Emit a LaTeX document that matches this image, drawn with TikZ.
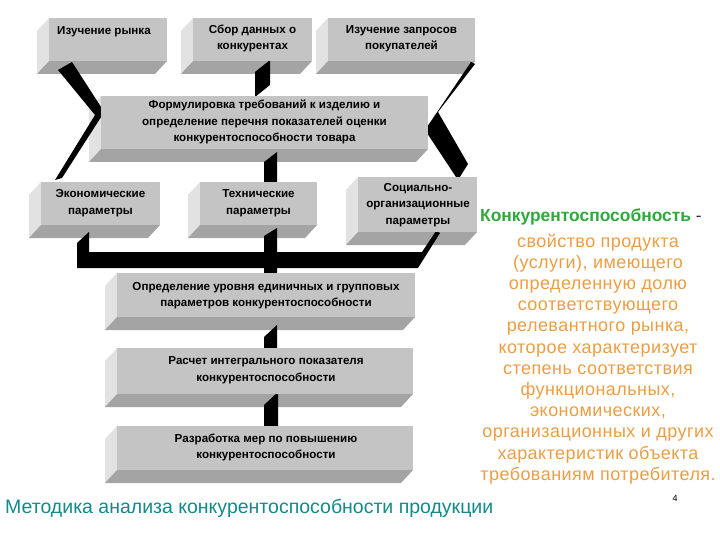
\documentclass[tikz,border=0pt]{standalone}
\usepackage{fontspec}
\setmainfont{Liberation Sans}
\newfontfamily\deffont[LetterSpace=2.5]{Liberation Sans}
\definecolor{boxfront}{HTML}{C4C4C4}
\definecolor{boxside}{HTML}{E2E2E2}
\definecolor{boxbottom}{HTML}{A4A4A4}
\definecolor{defgreen}{HTML}{2EAA3C}
\definecolor{deforange}{HTML}{EC9E44}
\definecolor{titleteal}{HTML}{138A8A}
\newcommand{\boxfaces}[4]{%
  \fill[boxside] (#1,#2) -- (#1-12,#2+13) -- (#1-12,#4+13) -- (#1,#4) -- cycle;
  \fill[boxbottom] (#1,#4) -- (#3,#4) -- (#3-12,#4+13) -- (#1-12,#4+13) -- cycle;}
\newcommand{\boxfront}[5]{%
  \node[frontface, anchor=north west, minimum width={#4-#2}, minimum height={#5-#3}] (#1) at (#2,#3) {};}
\begin{document}
\begin{tikzpicture}[x=1pt,y=-1pt,
  frontface/.style={fill=boxfront, draw=none, inner sep=0pt, outer sep=0pt},
  boxtext/.style={font=\fontsize{11.6}{16.5}\selectfont\bfseries, align=center, inner sep=0pt},
  conn/.style={fill=black}]
\useasboundingbox (0,0) rectangle (720,540);
\fill[white] (0,0) rectangle (720,540);
% side and bottom faces
\boxfaces{49}{18}{167}{61}
\boxfaces{193}{18}{312}{61}
\boxfaces{328}{18}{475}{61}
\boxfaces{101}{96}{428}{149}
\boxfaces{41}{182}{160}{225}
\boxfaces{200}{182}{317}{225}
\boxfaces{358}{177}{477}{232}
\boxfaces{117}{273}{415}{317}
\boxfaces{117}{348}{413}{394}
\boxfaces{117}{426}{413}{470}
% connectors (black bands)
\fill[conn] (58,70) -- (72,62) -- (103,110) -- (103,114) -- (62,178) -- (55,180) -- (95,115) -- cycle;
\fill[conn] (255,72) -- (270,60) -- (270,85) -- (255,97) -- cycle;
\fill[conn] (471,62) -- (475,64) -- (438,112) -- (468,164) -- (458,180) -- (425,130) -- cycle;
\fill[conn] (264,162) -- (277,152) -- (277,183) -- (264,183) -- cycle;
\fill[conn] (77,243) -- (89,232) -- (89,252) -- (422,252) -- (436,231) -- (440,233) -- (418,268) -- (77,268) -- cycle;
\fill[conn] (264,236) -- (277,228) -- (277,274) -- (264,274) -- cycle;
\fill[conn] (264,337) -- (277,325) -- (277,349) -- (264,349) -- cycle;
\fill[conn] (264,405) -- (278,392) -- (278,427) -- (264,427) -- cycle;
% front faces
\boxfront{b1}{49}{18}{167}{61}
\boxfront{b2}{193}{18}{312}{61}
\boxfront{b3}{328}{18}{475}{61}
\boxfront{b4}{101}{96}{428}{149}
\boxfront{b5}{41}{182}{160}{225}
\boxfront{b6}{200}{182}{317}{225}
\boxfront{b7}{358}{177}{477}{232}
\boxfront{b8}{117}{273}{415}{317}
\boxfront{b9}{117}{348}{413}{394}
\boxfront{b10}{117}{426}{413}{470}
% box texts
\node[boxtext] (t1) at (104,32) {Изучение рынка};
\node[boxtext] (t2) at (252.5,38.5) {Сбор данных о\\конкурентах};
\node[boxtext] (t3) at (401.5,38.5) {Изучение запросов\\покупателей};
\node[boxtext] (t4) at (264.5,122) {Формулировка требований к изделию и\\определение перечня показателей оценки\\конкурентоспособности товара};
\node[boxtext] (t5) at (100.5,203) {Экономические\\параметры};
\node[boxtext] (t6) at (258.5,203) {Технические\\параметры};
\node[boxtext] (t7) at (418,205) {Социально-\\организационные\\параметры};
\node[boxtext] (t8) at (266,295.5) {Определение уровня единичных и групповых\\параметров конкурентоспособности};
\node[boxtext] (t9) at (266,370) {Расчет интегрального показателя\\конкурентоспособности};
\node[boxtext] (t10) at (266,447.5) {Разработка мер по повышению\\конкурентоспособности};
% definition text
\node[anchor=west, inner sep=0pt, font=\fontsize{17.4}{21}\selectfont] (term) at (480,217)
  {{\color{defgreen}\bfseries Конкурентоспособность} {\color{black!80}-}};
\node[anchor=north, align=center, inner sep=0pt, text=deforange,
  font=\deffont\fontsize{18}{21.2}\selectfont] (def) at (598,233.5)
  {свойство продукта\\(услуги), имеющего\\определенную долю\\соответствующего\\
   релевантного рынка,\\которое характеризует\\степень соответствия\\
   функциональных,\\экономических,\\организационных и других\\
   характеристик объекта\\требованиям потребителя.};
% title and page number
\node[anchor=base west, inner sep=0pt, text=titleteal, font=\fontsize{19.5}{22}\selectfont] (title) at (5,513) {Методика анализа конкурентоспособности продукции};
\node[inner sep=0pt, font=\fontsize{9}{10}\selectfont] (pnum) at (675,498) {4};
\end{tikzpicture}
\end{document}
